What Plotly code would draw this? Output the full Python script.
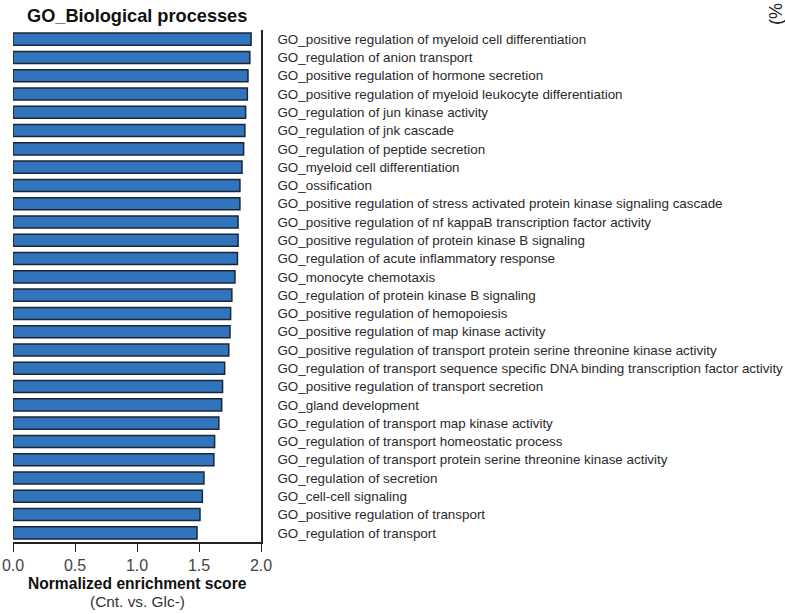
import plotly.graph_objects as go

terms = [
    "GO_positive regulation of myeloid cell differentiation",
    "GO_regulation of anion transport",
    "GO_positive regulation of hormone secretion",
    "GO_positive regulation of myeloid leukocyte differentiation",
    "GO_regulation of jun kinase activity",
    "GO_regulation of jnk cascade",
    "GO_regulation of peptide secretion",
    "GO_myeloid cell differentiation",
    "GO_ossification",
    "GO_positive regulation of stress activated protein kinase signaling cascade",
    "GO_positive regulation of nf kappaB transcription factor activity",
    "GO_positive regulation of protein kinase B signaling",
    "GO_regulation of acute inflammatory response",
    "GO_monocyte chemotaxis",
    "GO_regulation of protein kinase B signaling",
    "GO_positive regulation of hemopoiesis",
    "GO_positive regulation of map kinase activity",
    "GO_positive regulation of transport protein serine threonine kinase activity",
    "GO_regulation of transport sequence specific DNA binding transcription factor activity",
    "GO_positive regulation of transport secretion",
    "GO_gland development",
    "GO_regulation of transport map kinase activity",
    "GO_regulation of transport homeostatic process",
    "GO_regulation of transport protein serine threonine kinase activity",
    "GO_regulation of secretion",
    "GO_cell-cell signaling",
    "GO_positive regulation of transport",
    "GO_regulation of transport",
]

nes = [1.92, 1.91, 1.895, 1.89, 1.876, 1.87, 1.86, 1.847, 1.83, 1.83,
       1.815, 1.815, 1.81, 1.79, 1.765, 1.755, 1.75, 1.74, 1.707, 1.69,
       1.683, 1.66, 1.626, 1.62, 1.54, 1.527, 1.508, 1.484]

x_tick_vals = [0.0, 0.5, 1.0, 1.5, 2.0]
x_tick_labels = ["0.0", "0.5", "1.0", "1.5", "2.0"]

title_text = "GO_Biological processes"
x_title = "Normalized enrichment score"
x_subtitle = "(Cnt. vs. Glc-)"
corner_text = "(%"

FONT = "Liberation Sans, Arial, sans-serif"

fig = go.Figure(
    go.Bar(
        x=nes,
        y=terms,
        orientation="h",
        marker=dict(color="#2f74bc", line=dict(color="#1f2633", width=1.5)),
        hoverinfo="x+y",
    )
)

fig.update_layout(
    width=785,
    height=614,
    margin=dict(l=13, r=524, t=29.5, b=72, pad=0),
    paper_bgcolor="white",
    plot_bgcolor="white",
    bargap=0.34,
    showlegend=False,
    font=dict(family=FONT, color="#333333"),
    xaxis=dict(
        range=[0, 2],
        tickvals=x_tick_vals,
        ticktext=x_tick_labels,
        ticks="outside",
        ticklen=8,
        tickwidth=1.3,
        tickcolor="#222222",
        showline=True,
        linecolor="#222222",
        linewidth=1.5,
        showgrid=False,
        zeroline=False,
        automargin=False,
        tickfont=dict(family=FONT, size=16, color="#444444"),
    ),
    yaxis=dict(
        type="category",
        categoryorder="array",
        categoryarray=terms,
        range=[len(terms) - 0.5, -0.5],
        side="right",
        showline=True,
        linecolor="#222222",
        linewidth=1.5,
        ticks="",
        showgrid=False,
        zeroline=False,
        automargin=False,
        ticklabelstandoff=12,
        tickfont=dict(family=FONT, size=13.4, color="#2a2a2a"),
    ),
    annotations=[
        dict(text="<b>" + title_text + "</b>", xref="paper", yref="paper",
             x=0.5, y=1, yshift=14, xanchor="center", yanchor="middle",
             showarrow=False, font=dict(family=FONT, size=18.2, color="#111111")),
        dict(text="<b>" + x_title + "</b>", xref="paper", yref="paper",
             x=0.5, y=0, yshift=-41.5, xanchor="center", yanchor="middle",
             showarrow=False, font=dict(family=FONT, size=15.6, color="#111111")),
        dict(text=x_subtitle, xref="paper", yref="paper",
             x=0.5, y=0, yshift=-59.5, xanchor="center", yanchor="middle",
             showarrow=False, font=dict(family=FONT, size=15.4, color="#333333")),
        dict(text=corner_text, xref="paper", yref="paper",
             x=1, xshift=515, y=1, yshift=16, xanchor="center", yanchor="middle",
             textangle=-90, showarrow=False,
             font=dict(family=FONT, size=18, color="#222222")),
    ],
)

fig.write_html("out.html")
